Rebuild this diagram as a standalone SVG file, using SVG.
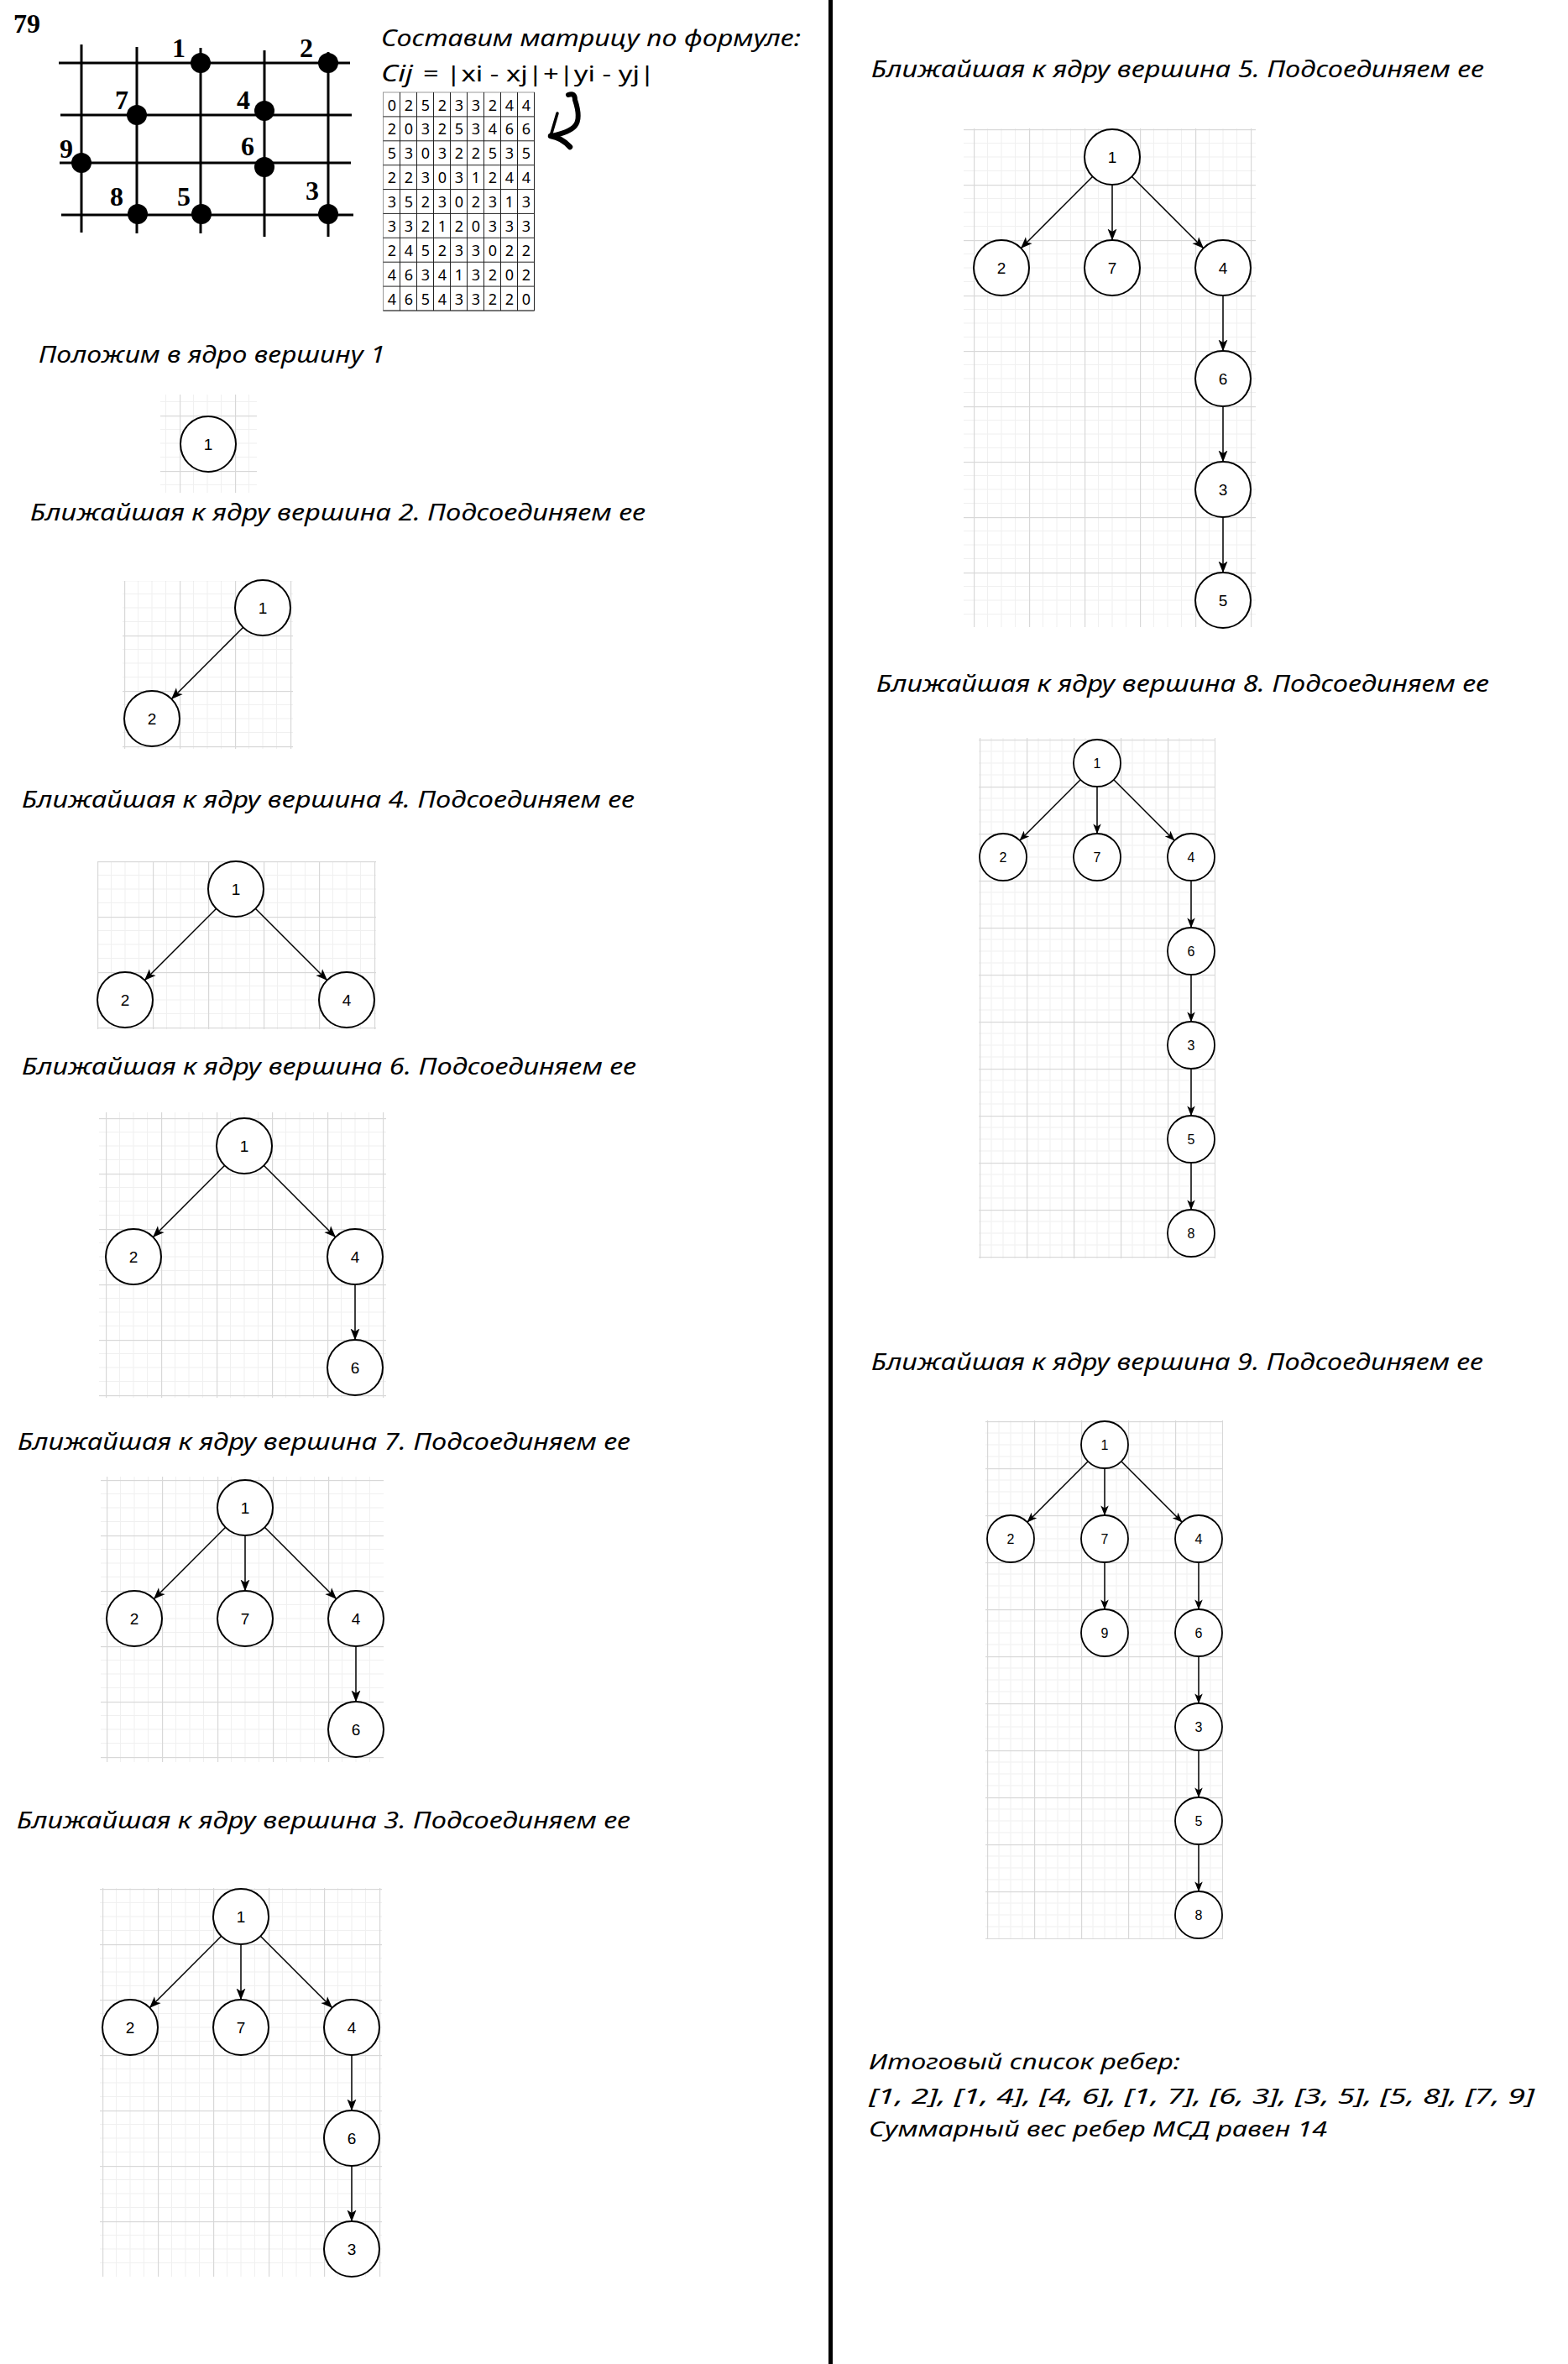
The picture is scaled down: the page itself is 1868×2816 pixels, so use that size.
<svg xmlns="http://www.w3.org/2000/svg" width="1868" height="2816" viewBox="0 0 1868 2816">
<defs>
<style>
.title{font-family:"Noto Sans","DejaVu Sans",sans-serif;font-style:italic;font-size:28px;fill:#000}
.fin{font-family:"Noto Sans","DejaVu Sans",sans-serif;font-style:italic;font-size:26px;fill:#000}
.tnr{font-family:"Liberation Serif","Times New Roman",serif;font-weight:bold;font-size:32px;fill:#000}
.mx{font-family:"Noto Sans","DejaVu Sans",sans-serif;font-size:18px;fill:#000;text-anchor:middle}
.node circle{fill:#fff;stroke:#000;stroke-width:2}
.node text{font-family:"Liberation Sans",Arial,sans-serif;font-size:19px;fill:#000;text-anchor:middle}
.sm circle{stroke-width:1.8}
.sm text{font-size:16px}
.edges line{stroke:#000;stroke-width:1.5;marker-end:url(#ah)}
.edges.s line{marker-end:url(#ahs)}
.gl{stroke:#000;stroke-width:3;fill:none}
</style>
<pattern id="grid66" patternUnits="userSpaceOnUse" width="66" height="66">
<rect x="16" width="1" height="66" fill="#f0f0f0"/><rect x="32.5" width="1" height="66" fill="#f0f0f0"/><rect x="49" width="1" height="66" fill="#f0f0f0"/>
<rect y="16" width="66" height="1" fill="#f0f0f0"/><rect y="32.5" width="66" height="1" fill="#f0f0f0"/><rect y="49" width="66" height="1" fill="#f0f0f0"/>
<rect width="1.2" height="66" fill="#d8d8d8"/><rect width="66" height="1.2" fill="#d8d8d8"/>
</pattern>
<pattern id="grid56" patternUnits="userSpaceOnUse" width="56" height="56">
<rect x="13.5" width="1" height="56" fill="#f0f0f0"/><rect x="27.5" width="1" height="56" fill="#f0f0f0"/><rect x="41.5" width="1" height="56" fill="#f0f0f0"/>
<rect y="13.5" width="56" height="1" fill="#f0f0f0"/><rect y="27.5" width="56" height="1" fill="#f0f0f0"/><rect y="41.5" width="56" height="1" fill="#f0f0f0"/>
<rect width="1.2" height="56" fill="#d8d8d8"/><rect width="56" height="1.2" fill="#d8d8d8"/>
</pattern>
<marker id="ah" viewBox="0 0 14 12" markerWidth="14" markerHeight="12" refX="13.5" refY="6" orient="auto" markerUnits="userSpaceOnUse"><path d="M0,0.5 L14,6 L0,11.5 L3.5,6 z" fill="#000"/></marker>
<marker id="ahs" viewBox="0 0 14 12" markerWidth="12" markerHeight="10.3" refX="13.5" refY="6" orient="auto" markerUnits="userSpaceOnUse"><path d="M0,0.5 L14,6 L0,11.5 L3.5,6 z" fill="#000"/></marker>
</defs>
<rect width="1868" height="2816" fill="#fff"/>

<!-- divider -->
<rect id="divider" x="987" y="0" width="5" height="2816" fill="#000"/>

<!-- task figure -->
<g id="task">
<text class="tnr" x="16" y="39" font-size="33">79</text>
<g id="task-grid">
<line class="gl" x1="70" y1="75" x2="417" y2="75"/>
<line class="gl" x1="72" y1="137" x2="419" y2="137"/>
<line class="gl" x1="71" y1="194" x2="418" y2="194"/>
<line class="gl" x1="73" y1="256" x2="421" y2="256"/>
<line class="gl" x1="97" y1="53" x2="97" y2="277"/>
<line class="gl" x1="163" y1="56" x2="163" y2="278"/>
<line class="gl" x1="239" y1="57" x2="239" y2="278"/>
<line class="gl" x1="315" y1="60" x2="315" y2="282"/>
<line class="gl" x1="391" y1="62" x2="391" y2="282"/>
</g>
<g id="task-points" fill="#000">
<circle cx="239" cy="75" r="12"/>
<circle cx="391" cy="75" r="12"/>
<circle cx="163" cy="137" r="12"/>
<circle cx="315" cy="132" r="12"/>
<circle cx="97" cy="194" r="12"/>
<circle cx="315" cy="199" r="12"/>
<circle cx="164" cy="255" r="12"/>
<circle cx="240" cy="255" r="12"/>
<circle cx="391" cy="255" r="12"/>
</g>
<g id="task-labels">
<text class="tnr" x="205" y="68">1</text>
<text class="tnr" x="357" y="68">2</text>
<text class="tnr" x="137" y="130">7</text>
<text class="tnr" x="282" y="130">4</text>
<text class="tnr" x="71" y="188">9</text>
<text class="tnr" x="287" y="185">6</text>
<text class="tnr" x="131" y="245">8</text>
<text class="tnr" x="211" y="245">5</text>
<text class="tnr" x="364" y="238">3</text>
</g>
</g>

<!-- formula and matrix -->
<g id="formula">
<text class="title" x="454" y="55" font-size="26" textLength="500" lengthAdjust="spacingAndGlyphs">Составим матрицу по формуле:</text>
<text class="title" x="454" y="97" font-size="26" textLength="38" lengthAdjust="spacingAndGlyphs">Cij</text>
<text x="504" y="97" font-family="Noto Sans, DejaVu Sans, sans-serif" font-size="25" textLength="276" lengthAdjust="spacingAndGlyphs">= |xi - xj|+|yi - yj|</text>
</g>
<g id="matrix">
<g stroke="#222" stroke-width="1">
<rect x="456.5" y="110" width="180" height="260" fill="none" stroke="#999"/>
<path d="M476.5 110V370M496.5 110V370M516.5 110V370M536.5 110V370M556.5 110V370M576.5 110V370M596.5 110V370M616.5 110V370M636.5 110V370M456.5 370H636.5M456.5 138.9H636.5M456.5 167.8H636.5M456.5 196.7H636.5M456.5 225.6H636.5M456.5 254.4H636.5M456.5 283.3H636.5M456.5 312.2H636.5M456.5 341.1H636.5"/>
</g>
<text class="mx" y="131.5"><tspan x="467">0</tspan><tspan x="487">2</tspan><tspan x="507">5</tspan><tspan x="527">2</tspan><tspan x="547">3</tspan><tspan x="567">3</tspan><tspan x="587">2</tspan><tspan x="607">4</tspan><tspan x="627">4</tspan></text>
<text class="mx" y="160.4"><tspan x="467">2</tspan><tspan x="487">0</tspan><tspan x="507">3</tspan><tspan x="527">2</tspan><tspan x="547">5</tspan><tspan x="567">3</tspan><tspan x="587">4</tspan><tspan x="607">6</tspan><tspan x="627">6</tspan></text>
<text class="mx" y="189.3"><tspan x="467">5</tspan><tspan x="487">3</tspan><tspan x="507">0</tspan><tspan x="527">3</tspan><tspan x="547">2</tspan><tspan x="567">2</tspan><tspan x="587">5</tspan><tspan x="607">3</tspan><tspan x="627">5</tspan></text>
<text class="mx" y="218.2"><tspan x="467">2</tspan><tspan x="487">2</tspan><tspan x="507">3</tspan><tspan x="527">0</tspan><tspan x="547">3</tspan><tspan x="567">1</tspan><tspan x="587">2</tspan><tspan x="607">4</tspan><tspan x="627">4</tspan></text>
<text class="mx" y="247.1"><tspan x="467">3</tspan><tspan x="487">5</tspan><tspan x="507">2</tspan><tspan x="527">3</tspan><tspan x="547">0</tspan><tspan x="567">2</tspan><tspan x="587">3</tspan><tspan x="607">1</tspan><tspan x="627">3</tspan></text>
<text class="mx" y="276"><tspan x="467">3</tspan><tspan x="487">3</tspan><tspan x="507">2</tspan><tspan x="527">1</tspan><tspan x="547">2</tspan><tspan x="567">0</tspan><tspan x="587">3</tspan><tspan x="607">3</tspan><tspan x="627">3</tspan></text>
<text class="mx" y="304.8"><tspan x="467">2</tspan><tspan x="487">4</tspan><tspan x="507">5</tspan><tspan x="527">2</tspan><tspan x="547">3</tspan><tspan x="567">3</tspan><tspan x="587">0</tspan><tspan x="607">2</tspan><tspan x="627">2</tspan></text>
<text class="mx" y="333.7"><tspan x="467">4</tspan><tspan x="487">6</tspan><tspan x="507">3</tspan><tspan x="527">4</tspan><tspan x="547">1</tspan><tspan x="567">3</tspan><tspan x="587">2</tspan><tspan x="607">0</tspan><tspan x="627">2</tspan></text>
<text class="mx" y="362.6"><tspan x="467">4</tspan><tspan x="487">6</tspan><tspan x="507">5</tspan><tspan x="527">4</tspan><tspan x="547">3</tspan><tspan x="567">3</tspan><tspan x="587">2</tspan><tspan x="607">2</tspan><tspan x="627">0</tspan></text>
</g>
<g id="hand-arrow" fill="none" stroke="#000" stroke-linecap="round" stroke-linejoin="round">
<path d="M677 113 Q685 110 685 119 C689 131 691 143 685 150 C679 157 667 160 657 162" stroke-width="6"/>
<path d="M664 135 L656 162" stroke-width="3.5"/>
<path d="M656 162 Q669 164 679 175" stroke-width="6.5"/>
</g>

<!-- titles -->
<text id="t1" class="title" x="46" y="432" textLength="413" lengthAdjust="spacingAndGlyphs">Положим в ядро вершину 1</text>
<text id="t2" class="title" x="36" y="620" textLength="733" lengthAdjust="spacingAndGlyphs">Ближайшая к ядру вершина 2. Подсоединяем ее</text>
<text id="t3" class="title" x="26" y="962" textLength="730" lengthAdjust="spacingAndGlyphs">Ближайшая к ядру вершина 4. Подсоединяем ее</text>
<text id="t4" class="title" x="26" y="1280" textLength="732" lengthAdjust="spacingAndGlyphs">Ближайшая к ядру вершина 6. Подсоединяем ее</text>
<text id="t5" class="title" x="21" y="1727" textLength="730" lengthAdjust="spacingAndGlyphs">Ближайшая к ядру вершина 7. Подсоединяем ее</text>
<text id="t6" class="title" x="20" y="2178" textLength="731" lengthAdjust="spacingAndGlyphs">Ближайшая к ядру вершина 3. Подсоединяем ее</text>
<text id="t7" class="title" x="1038" y="92" textLength="730" lengthAdjust="spacingAndGlyphs">Ближайшая к ядру вершина 5. Подсоединяем ее</text>
<text id="t8" class="title" x="1044" y="824" textLength="730" lengthAdjust="spacingAndGlyphs">Ближайшая к ядру вершина 8. Подсоединяем ее</text>
<text id="t9" class="title" x="1038" y="1632" textLength="729" lengthAdjust="spacingAndGlyphs">Ближайшая к ядру вершина 9. Подсоединяем ее</text>
<g id="result">
<text class="fin" x="1035" y="2465" textLength="371" lengthAdjust="spacingAndGlyphs">Итоговый список ребер:</text>
<text class="fin" x="1035" y="2506" textLength="793" lengthAdjust="spacingAndGlyphs">[1, 2], [1, 4], [4, 6], [1, 7], [6, 3], [3, 5], [5, 8], [7, 9]</text>
<text class="fin" x="1035" y="2545" textLength="546" lengthAdjust="spacingAndGlyphs">Суммарный вес ребер МСД равен 14</text>
</g>

<!-- Graph 1 -->
<g id="graph1">
<g transform="translate(214,495)"><rect x="-23" y="-25" width="115" height="117" fill="url(#grid66)"/></g>
<g id="g1-n1" class="node"><circle cx="248" cy="529" r="33"/><text x="248" y="536">1</text></g>
</g>

<!-- Graph 2 -->
<g id="graph2">
<g transform="translate(148,691)"><rect x="-2" y="1" width="203" height="200" fill="url(#grid66)"/></g>
<g id="g2-edges" class="edges">
<line x1="289.7" y1="747.3" x2="204.3" y2="832.7"/>
</g>
<g id="g2-n1" class="node"><circle cx="313" cy="724" r="33"/><text x="313" y="731">1</text></g>
<g id="g2-n2" class="node"><circle cx="181" cy="856" r="33"/><text x="181" y="863">2</text></g>
</g>

<!-- Graph 3 -->
<g id="graph3">
<g transform="translate(116,1026)"><rect x="0" y="0" width="332" height="200" fill="url(#grid66)"/></g>
<g id="g3-edges" class="edges">
<line x1="257.7" y1="1082.3" x2="172.3" y2="1167.7"/>
<line x1="304.3" y1="1082.3" x2="389.7" y2="1167.7"/>
</g>
<g id="g3-n1" class="node"><circle cx="281" cy="1059" r="33"/><text x="281" y="1066">1</text></g>
<g id="g3-n2" class="node"><circle cx="149" cy="1191" r="33"/><text x="149" y="1198">2</text></g>
<g id="g3-n4" class="node"><circle cx="413" cy="1191" r="33"/><text x="413" y="1198">4</text></g>
</g>

<!-- Graph 4 -->
<g id="graph4">
<g transform="translate(126,1332)"><rect x="-8" y="-7" width="342" height="340" fill="url(#grid66)"/></g>
<g id="g4-edges" class="edges">
<line x1="267.7" y1="1388.3" x2="182.3" y2="1473.7"/>
<line x1="314.3" y1="1388.3" x2="399.7" y2="1473.7"/>
<line x1="423" y1="1530" x2="423" y2="1596"/>
</g>
<g id="g4-n1" class="node"><circle cx="291" cy="1365" r="33"/><text x="291" y="1372">1</text></g>
<g id="g4-n2" class="node"><circle cx="159" cy="1497" r="33"/><text x="159" y="1504">2</text></g>
<g id="g4-n4" class="node"><circle cx="423" cy="1497" r="33"/><text x="423" y="1504">4</text></g>
<g id="g4-n6" class="node"><circle cx="423" cy="1629" r="33"/><text x="423" y="1636">6</text></g>
</g>

<!-- Graph 5 -->
<g id="graph5">
<g transform="translate(127,1763)"><rect x="-7" y="-4" width="337" height="340" fill="url(#grid66)"/></g>
<g id="g5-edges" class="edges">
<line x1="268.7" y1="1819.3" x2="183.3" y2="1904.7"/>
<line x1="292" y1="1829" x2="292" y2="1895"/>
<line x1="315.3" y1="1819.3" x2="400.7" y2="1904.7"/>
<line x1="424" y1="1961" x2="424" y2="2027"/>
</g>
<g id="g5-n1" class="node"><circle cx="292" cy="1796" r="33"/><text x="292" y="1803">1</text></g>
<g id="g5-n2" class="node"><circle cx="160" cy="1928" r="33"/><text x="160" y="1935">2</text></g>
<g id="g5-n7" class="node"><circle cx="292" cy="1928" r="33"/><text x="292" y="1935">7</text></g>
<g id="g5-n4" class="node"><circle cx="424" cy="1928" r="33"/><text x="424" y="1935">4</text></g>
<g id="g5-n6" class="node"><circle cx="424" cy="2060" r="33"/><text x="424" y="2067">6</text></g>
</g>

<!-- Graph 6 -->
<g id="graph6">
<g transform="translate(122,2250)"><rect x="-3" y="-1" width="336" height="463" fill="url(#grid66)"/></g>
<g id="g6-edges" class="edges">
<line x1="263.7" y1="2306.3" x2="178.3" y2="2391.7"/>
<line x1="287" y1="2316" x2="287" y2="2382"/>
<line x1="310.3" y1="2306.3" x2="395.7" y2="2391.7"/>
<line x1="419" y1="2448" x2="419" y2="2514"/>
<line x1="419" y1="2580" x2="419" y2="2646"/>
</g>
<g id="g6-n1" class="node"><circle cx="287" cy="2283" r="33"/><text x="287" y="2290">1</text></g>
<g id="g6-n2" class="node"><circle cx="155" cy="2415" r="33"/><text x="155" y="2422">2</text></g>
<g id="g6-n7" class="node"><circle cx="287" cy="2415" r="33"/><text x="287" y="2422">7</text></g>
<g id="g6-n4" class="node"><circle cx="419" cy="2415" r="33"/><text x="419" y="2422">4</text></g>
<g id="g6-n6" class="node"><circle cx="419" cy="2547" r="33"/><text x="419" y="2554">6</text></g>
<g id="g6-n3" class="node"><circle cx="419" cy="2679" r="33"/><text x="419" y="2686">3</text></g>
</g>

<!-- Graph 7 (right, vertex 5) -->
<g id="graph7">
<g transform="translate(1160,154)"><rect x="-12" y="-1" width="348" height="594" fill="url(#grid66)"/></g>
<g id="g7-edges" class="edges">
<line x1="1301.7" y1="210.3" x2="1216.3" y2="295.7"/>
<line x1="1325" y1="220" x2="1325" y2="286"/>
<line x1="1348.3" y1="210.3" x2="1433.7" y2="295.7"/>
<line x1="1457" y1="352" x2="1457" y2="418"/>
<line x1="1457" y1="484" x2="1457" y2="550"/>
<line x1="1457" y1="616" x2="1457" y2="682"/>
</g>
<g id="g7-n1" class="node"><circle cx="1325" cy="187" r="33"/><text x="1325" y="194">1</text></g>
<g id="g7-n2" class="node"><circle cx="1193" cy="319" r="33"/><text x="1193" y="326">2</text></g>
<g id="g7-n7" class="node"><circle cx="1325" cy="319" r="33"/><text x="1325" y="326">7</text></g>
<g id="g7-n4" class="node"><circle cx="1457" cy="319" r="33"/><text x="1457" y="326">4</text></g>
<g id="g7-n6" class="node"><circle cx="1457" cy="451" r="33"/><text x="1457" y="458">6</text></g>
<g id="g7-n3" class="node"><circle cx="1457" cy="583" r="33"/><text x="1457" y="590">3</text></g>
<g id="g7-n5" class="node"><circle cx="1457" cy="715" r="33"/><text x="1457" y="722">5</text></g>
</g>

<!-- Graph 8 (vertex 8) -->
<g id="graph8">
<g transform="translate(1167,881)"><rect x="-1" y="-2" width="282" height="620" fill="url(#grid56)"/></g>
<g id="g8-edges" class="edges s">
<line x1="1287.2" y1="928.8" x2="1214.8" y2="1001.2"/>
<line x1="1307" y1="937" x2="1307" y2="993"/>
<line x1="1326.8" y1="928.8" x2="1399.2" y2="1001.2"/>
<line x1="1419" y1="1049" x2="1419" y2="1105"/>
<line x1="1419" y1="1161" x2="1419" y2="1217"/>
<line x1="1419" y1="1273" x2="1419" y2="1329"/>
<line x1="1419" y1="1385" x2="1419" y2="1441"/>
</g>
<g id="g8-n1" class="node sm"><circle cx="1307" cy="909" r="28"/><text x="1307" y="915">1</text></g>
<g id="g8-n2" class="node sm"><circle cx="1195" cy="1021" r="28"/><text x="1195" y="1027">2</text></g>
<g id="g8-n7" class="node sm"><circle cx="1307" cy="1021" r="28"/><text x="1307" y="1027">7</text></g>
<g id="g8-n4" class="node sm"><circle cx="1419" cy="1021" r="28"/><text x="1419" y="1027">4</text></g>
<g id="g8-n6" class="node sm"><circle cx="1419" cy="1133" r="28"/><text x="1419" y="1139">6</text></g>
<g id="g8-n3" class="node sm"><circle cx="1419" cy="1245" r="28"/><text x="1419" y="1251">3</text></g>
<g id="g8-n5" class="node sm"><circle cx="1419" cy="1357" r="28"/><text x="1419" y="1363">5</text></g>
<g id="g8-n8" class="node sm"><circle cx="1419" cy="1469" r="28"/><text x="1419" y="1475">8</text></g>
</g>

<!-- Graph 9 (vertex 9) -->
<g id="graph9">
<g transform="translate(1176,1693)"><rect x="-2" y="-1" width="283" height="618" fill="url(#grid56)"/></g>
<g id="g9-edges" class="edges s">
<line x1="1296.2" y1="1740.8" x2="1223.8" y2="1813.2"/>
<line x1="1316" y1="1749" x2="1316" y2="1805"/>
<line x1="1335.8" y1="1740.8" x2="1408.2" y2="1813.2"/>
<line x1="1316" y1="1861" x2="1316" y2="1917"/>
<line x1="1428" y1="1861" x2="1428" y2="1917"/>
<line x1="1428" y1="1973" x2="1428" y2="2029"/>
<line x1="1428" y1="2085" x2="1428" y2="2141"/>
<line x1="1428" y1="2197" x2="1428" y2="2253"/>
</g>
<g id="g9-n1" class="node sm"><circle cx="1316" cy="1721" r="28"/><text x="1316" y="1727">1</text></g>
<g id="g9-n2" class="node sm"><circle cx="1204" cy="1833" r="28"/><text x="1204" y="1839">2</text></g>
<g id="g9-n7" class="node sm"><circle cx="1316" cy="1833" r="28"/><text x="1316" y="1839">7</text></g>
<g id="g9-n4" class="node sm"><circle cx="1428" cy="1833" r="28"/><text x="1428" y="1839">4</text></g>
<g id="g9-n9" class="node sm"><circle cx="1316" cy="1945" r="28"/><text x="1316" y="1951">9</text></g>
<g id="g9-n6" class="node sm"><circle cx="1428" cy="1945" r="28"/><text x="1428" y="1951">6</text></g>
<g id="g9-n3" class="node sm"><circle cx="1428" cy="2057" r="28"/><text x="1428" y="2063">3</text></g>
<g id="g9-n5" class="node sm"><circle cx="1428" cy="2169" r="28"/><text x="1428" y="2175">5</text></g>
<g id="g9-n8" class="node sm"><circle cx="1428" cy="2281" r="28"/><text x="1428" y="2287">8</text></g>
</g>
</svg>
